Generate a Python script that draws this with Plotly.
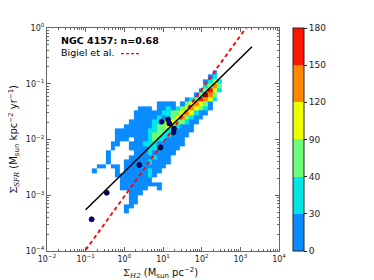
import plotly.graph_objects as go

# ---------------- data ----------------
# 2D histogram grid in log10 space
X_EDGE_LOG0 = -0.84      # log10 of first x bin edge (Sigma_H2)
X_BIN_DEX = 0.12
Y_EDGE_LOG0 = -3.40      # log10 of first y bin edge (Sigma_SFR)
Y_BIN_DEX = 0.08

# colour band of each histogram cell, top row first
# '.' = empty, 1..6 = band index (see BAND_BOUNDS), 7 = above 180
HIST_ROWS = [
    "..........................1.",
    ".........................12.",
    "........................1242",
    "........................2353",
    ".......................13642",
    "......................13753.",
    "....................1236542.",
    "..............1111.1345431..",
    "..........111.112123454321..",
    ".........1111112233454211...",
    ".........111112123453211....",
    "........111112233433211.....",
    ".......111111233432111......",
    ".....11111112233221111......",
    ".....1111111233221111.......",
    ".....111.11123221111........",
    "....11..111222111111........",
    "....1...11112211111.........",
    "...1.....111211111..........",
    "...1....111112111...........",
    "...1...1111121111...........",
    ".11.11.111111111............",
    "1....1.11111211.............",
    ".....111111121..............",
    "......1111111...............",
    "......111111111.............",
    "......111111..1.............",
    "........111.................",
    "........11..................",
    "........11..................",
    ".......11...................",
    ".......1....................",
    "............................",
]

BAND_BOUNDS = [0, 30, 40, 90, 120, 150, 180]
BAND_COLORS = ["#0a8cff", "#00e5e5", "#6cff7c", "#eeff00", "#ff8800", "#ff1400"]
OVER_COLOR = "#8b0000"

# radial profile points
POINTS_X = [0.143, 0.35, 2.44, 8.6, 9.25, 13.5, 14.6, 19.3, 18.7]
POINTS_Y = [3.7e-4, 1.11e-3, 3.49e-3, 7.2e-3, 0.0209, 0.0229, 0.0194, 0.0157, 0.0135]

# fitted law and Bigiel et al. (2008) law
FIT_N = 0.68
FIT_LOGA = -2.58
BIGIEL_N = 0.96
BIGIEL_LOGA = -2.06          # at Sigma_H2 = 10 Msun pc^-2
LINE_X = [0.1, 2000.0]

X_TICKS = [1e-2, 1e-1, 1e0, 1e1, 1e2, 1e3, 1e4]
X_TICKTEXT = ["10<sup>−2</sup>", "10<sup>−1</sup>", "10<sup>0</sup>", "10<sup>1</sup>",
              "10<sup>2</sup>", "10<sup>3</sup>", "10<sup>4</sup>"]
Y_TICKS = [1e-4, 1e-3, 1e-2, 1e-1, 1e0]
Y_TICKTEXT = ["10<sup>−4</sup>", "10<sup>−3</sup>", "10<sup>−2</sup>", "10<sup>−1</sup>",
              "10<sup>0</sup>"]

# ---------------- build ----------------
ncols = max(len(r) for r in HIST_ROWS)
rows = [r.ljust(ncols, ".")[:ncols] for r in HIST_ROWS][::-1]  # bottom row first
nrows = len(rows)
x_edges = [10 ** (X_EDGE_LOG0 + i * X_BIN_DEX) for i in range(ncols + 1)]
y_edges = [10 ** (Y_EDGE_LOG0 + j * Y_BIN_DEX) for j in range(nrows + 1)]

z_main, z_over = [], []
for r in rows:
    zm, zo = [], []
    for ch in r:
        if ch in "123456":
            zm.append(int(ch) - 0.5)
            zo.append(None)
        elif ch == "7":
            zm.append(None)
            zo.append(1)
        else:
            zm.append(None)
            zo.append(None)
    z_main.append(zm)
    z_over.append(zo)

nb = len(BAND_COLORS)
cscale = []
for i, c in enumerate(BAND_COLORS):
    cscale += [[i / nb, c], [(i + 1) / nb, c]]

fig = go.Figure()
fig.add_trace(go.Heatmap(
    x=x_edges, y=y_edges, z=z_main, zmin=0, zmax=nb, colorscale=cscale,
    hoverinfo="skip",
    colorbar=dict(
        tickmode="array", tickvals=list(range(nb + 1)),
        ticktext=[str(b) for b in BAND_BOUNDS],
        thickness=11, len=1, lenmode="fraction", x=1.06, xanchor="left",
        xpad=0, ypad=0, y=0.5, yanchor="middle",
        outlinecolor="#222", outlinewidth=1,
        ticks="outside", ticklen=3, tickcolor="#222",
        tickfont=dict(size=9, color="#222", family="DejaVu Sans"),
    ),
))
fig.add_trace(go.Heatmap(
    x=x_edges, y=y_edges, z=z_over, zmin=0, zmax=1,
    colorscale=[[0, OVER_COLOR], [1, OVER_COLOR]], showscale=False,
    hoverinfo="skip",
))

bx = LINE_X
by = [10 ** BIGIEL_LOGA * (x / 10.0) ** BIGIEL_N for x in bx]
fy = [10 ** FIT_LOGA * x ** FIT_N for x in bx]

fig.add_trace(go.Scatter(x=bx, y=by, mode="lines",
                         line=dict(color="#ff0000", width=1.8, dash="4px,3px"),
                         showlegend=False, hoverinfo="skip"))
fig.add_trace(go.Scatter(x=bx, y=fy, mode="lines",
                         line=dict(color="black", width=1.5),
                         showlegend=False, hoverinfo="skip"))
fig.add_trace(go.Scatter(x=POINTS_X, y=POINTS_Y, mode="markers",
                         marker=dict(size=5, color="#000080",
                                     line=dict(color="black", width=0.8)),
                         showlegend=False, hoverinfo="skip"))

def minor_vals(lo, hi):
    out = []
    for d in range(lo, hi):
        for k in range(2, 10):
            out.append(k * 10 ** d)
    return out

axis_common = dict(
    type="log", showgrid=False, zeroline=False, showline=True,
    linecolor="#666", linewidth=1.2, mirror="allticks",
    ticks="inside", ticklen=4, tickcolor="#666", tickwidth=1,
    tickfont=dict(size=8, color="#222", family="DejaVu Sans"),
)

# the page body has an 8px default margin, so the figure is sized to fit inside it
fig.update_layout(
    width=366, height=272,
    margin=dict(l=39, r=95, t=20, b=29),
    paper_bgcolor="white", plot_bgcolor="white",
    showlegend=False,
    xaxis=dict(range=[-2, 4], tickmode="array", tickvals=X_TICKS, ticktext=X_TICKTEXT,
               minor=dict(tickmode="array", tickvals=minor_vals(-2, 4), ticks="inside",
                          ticklen=2, tickcolor="#666"),
               **axis_common),
    yaxis=dict(range=[-4, 0], tickmode="array", tickvals=Y_TICKS, ticktext=Y_TICKTEXT,
               minor=dict(tickmode="array", tickvals=minor_vals(-4, 0), ticks="inside",
                          ticklen=2, tickcolor="#666"),
               **axis_common),
)

SIG = '<span style="font-family:DejaVu Serif">Σ</span>'
fig.add_annotation(
    text=SIG + '<sub><i><span style="font-family:DejaVu Serif">H2</span></i></sub> (M<sub>sun</sub> pc<sup>−2</sup>)',
    xref="paper", yref="paper", x=0.49, y=-0.098, xanchor="center", yanchor="middle",
    showarrow=False, font=dict(size=10, color="#111", family="DejaVu Sans"))
fig.add_annotation(
    text=SIG + '<sub><i><span style="font-family:DejaVu Serif">SFR</span></i></sub> (M<sub>sun</sub> kpc<sup>−2</sup> yr<sup>−1</sup>)',
    xref="paper", yref="paper", x=-0.145, y=0.5, xanchor="center", yanchor="middle",
    textangle=-90, showarrow=False, font=dict(size=10, color="#111", family="DejaVu Sans"))
fig.add_annotation(
    text="<b>NGC 4157: n=0.68</b>", xref="paper", yref="paper", x=0.05, y=0.942,
    xanchor="left", yanchor="middle", showarrow=False,
    font=dict(size=9.5, color="black", family="DejaVu Sans"))
fig.add_annotation(
    text="Bigiel et al.", xref="paper", yref="paper", x=0.05, y=0.888,
    xanchor="left", yanchor="middle", showarrow=False,
    font=dict(size=9.5, color="black", family="DejaVu Sans"))
fig.add_shape(type="line", xref="paper", yref="paper", x0=0.319, x1=0.405, y0=0.885, y1=0.885,
              line=dict(color="#ff0000", width=1.3, dash="3px,2px"))

fig.write_html("out.html")
